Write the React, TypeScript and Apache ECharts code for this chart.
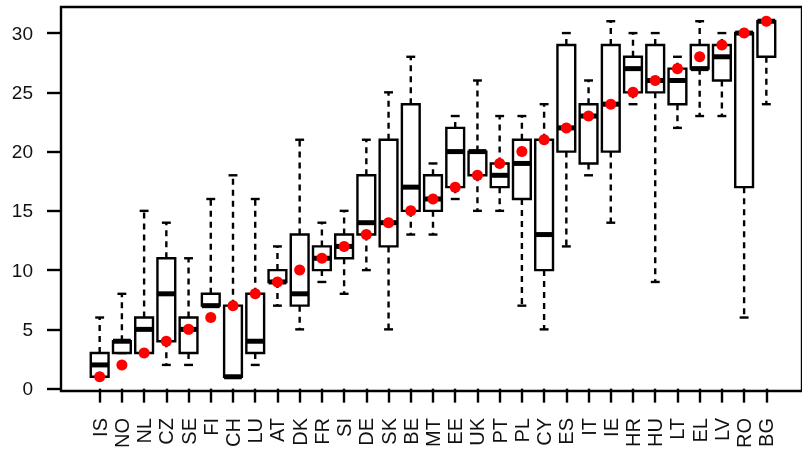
import React, { useEffect, useRef } from "react";
import * as echarts from "echarts";

const countries = ["IS","NO","NL","CZ","SE","FI","CH","LU","AT","DK","FR","SI","DE","SK","BE","MT","EE","UK","PT","PL","CY","ES","IT","IE","HR","HU","LT","EL","LV","RO","BG"];
const whiskerLow = [1,3,3,2,2,7,1,2,7,5,9,8,10,5,13,13,16,15,15,7,5,12,18,14,24,9,22,23,23,6,24];
const boxLow =     [1,3,3,4,3,7,1,3,9,7,10,11,13,12,15,15,17,18,17,16,10,20,19,20,25,25,24,27,26,17,28];
const medians =    [2,4,5,8,5,7,1,4,9,8,11,12,14,14,17,16,20,20,18,19,13,22,23,24,27,26,26,27,28,30,31];
const boxHigh =    [3,4,6,11,6,8,7,8,10,13,12,13,18,21,24,18,22,20,19,21,21,29,24,29,28,29,27,29,29,30,31];
const whiskerHigh =[6,8,15,14,11,16,18,16,12,21,14,15,21,25,28,19,23,26,23,23,24,30,26,31,30,30,28,31,30,30,31];
const redPoints =  [1,2,3,4,5,6,7,8,9,10,11,12,13,14,15,16,17,18,19,20,21,22,23,24,25,26,27,28,29,30,31];
const yTicks = [0, 5, 10, 15, 20, 25, 30];

export default function App() {
  const ref = useRef<HTMLDivElement>(null);
  useEffect(() => {
    if (!ref.current) return;
    const chart = echarts.init(ref.current, null, { renderer: "svg" });
    const boxData = countries.map((_, i) => [i, whiskerLow[i], boxLow[i], medians[i], boxHigh[i], whiskerHigh[i]]);
    const dotData = countries.map((_, i) => [i, redPoints[i]]);
    const n = countries.length;

    // R-style extended ranges (4%)
    const xPad = 0.04 * n;
    const dataMin = Math.min(...whiskerLow, ...redPoints);
    const dataMax = Math.max(...whiskerHigh, ...redPoints);
    const yPad = 0.04 * (dataMax - dataMin);
    const yMin = dataMin - yPad;
    const yMax = dataMax + yPad;
    const yTickMin = yTicks[0];
    const yTickMax = yTicks[yTicks.length - 1];
    const yTickStep = yTicks[1] - yTicks[0];

    const frame = { left: 61, top: 7, width: 744, height: 384 };
    const unit = frame.width / (n + 2 * xPad);
    const kY = frame.height / (yMax - yMin);
    const lw = 2.4;

    const tick = { show: true, inside: false, length: 14, lineStyle: { color: "#000", width: lw } };
    const font = { fontFamily: "Liberation Sans", color: "#111" };

    chart.setOption({
      animation: false,
      grid: [
        { ...frame, show: true, borderColor: "#000", borderWidth: lw, backgroundColor: "transparent" },
        { left: frame.left + xPad * unit, width: n * unit, top: frame.top, height: frame.height },
        {
          left: frame.left,
          width: frame.width,
          top: frame.top + (yMax - yTickMax) * kY,
          height: (yTickMax - yTickMin) * kY,
        },
      ],
      xAxis: [
        { gridIndex: 0, type: "value", show: false },
        {
          gridIndex: 1,
          type: "category",
          data: countries,
          boundaryGap: true,
          axisLine: { show: false },
          axisTick: { ...tick, alignWithLabel: true, interval: 0 },
          axisLabel: { ...font, interval: 0, rotate: 90, margin: 27, fontSize: 20 },
          splitLine: { show: false },
        },
        { gridIndex: 2, type: "value", show: false, min: 0, max: 1 },
      ],
      yAxis: [
        { gridIndex: 0, type: "value", show: false, min: yMin, max: yMax },
        { gridIndex: 1, type: "value", show: false, min: yMin, max: yMax },
        {
          gridIndex: 2,
          type: "value",
          min: yTickMin,
          max: yTickMax,
          interval: yTickStep,
          axisLine: { show: false },
          axisTick: tick,
          axisLabel: { ...font, margin: 28, fontSize: 19 },
          splitLine: { show: false },
        },
      ],
      series: [
        {
          type: "custom",
          xAxisIndex: 1,
          yAxisIndex: 1,
          data: boxData,
          encode: { x: 0, y: [1, 2, 3, 4, 5] },
          z: 2,
          renderItem: (params: any, api: any) => {
            const x = api.value(0);
            const lo = api.coord([x, api.value(1)]);
            const q1 = api.coord([x, api.value(2)]);
            const md = api.coord([x, api.value(3)]);
            const q3 = api.coord([x, api.value(4)]);
            const hi = api.coord([x, api.value(5)]);
            const w = api.size([1, 0])[0] * 0.8;
            const cx = lo[0];
            const dashed = { stroke: "#000", lineWidth: lw, lineDash: [6, 5], fill: null };
            const solid = { stroke: "#000", lineWidth: lw, fill: null };
            return {
              type: "group",
              children: [
                { type: "line", shape: { x1: cx, y1: q3[1], x2: cx, y2: hi[1] }, style: dashed },
                { type: "line", shape: { x1: cx, y1: q1[1], x2: cx, y2: lo[1] }, style: dashed },
                { type: "line", shape: { x1: cx - w / 4, y1: hi[1], x2: cx + w / 4, y2: hi[1] }, style: solid },
                { type: "line", shape: { x1: cx - w / 4, y1: lo[1], x2: cx + w / 4, y2: lo[1] }, style: solid },
                {
                  type: "rect",
                  shape: { x: cx - w / 2, y: q3[1], width: w, height: q1[1] - q3[1] },
                  style: { fill: "#fff", stroke: "#000", lineWidth: lw },
                },
                { type: "line", shape: { x1: cx - w / 2, y1: md[1], x2: cx + w / 2, y2: md[1] }, style: { stroke: "#000", lineWidth: 5 } },
              ],
            };
          },
        },
        {
          type: "scatter",
          xAxisIndex: 1,
          yAxisIndex: 1,
          data: dotData,
          symbol: "circle",
          symbolSize: 11,
          itemStyle: { color: "#ff0000", opacity: 1 },
          z: 5,
        },
      ],
    });
    return () => chart.dispose();
  }, []);
  return <div ref={ref} style={{ position: "fixed", left: 0, top: 0, width: 802, height: 453 }} />;
}
